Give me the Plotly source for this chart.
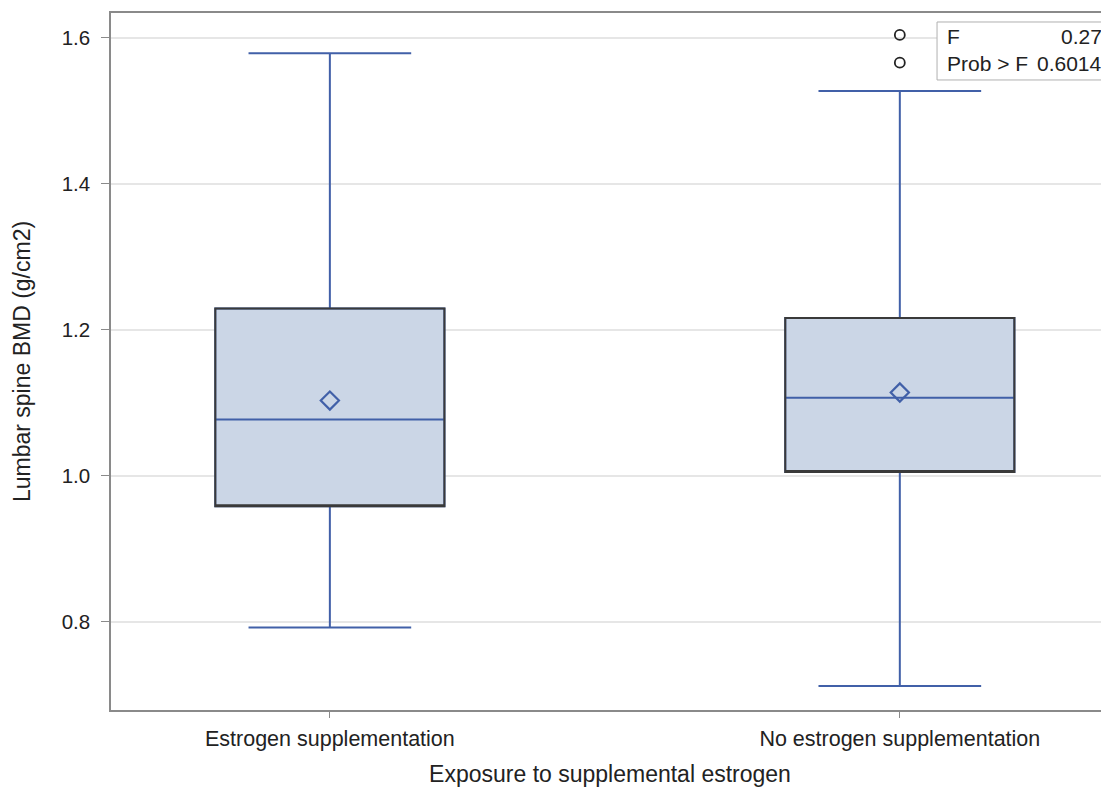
import plotly.graph_objects as go

categories = ["Estrogen supplementation", "No estrogen supplementation"]
q1 = [0.958, 1.005]
median = [1.077, 1.107]
q3 = [1.229, 1.216]
lower = [0.792, 0.712]
upper = [1.579, 1.527]
means = [1.103, 1.114]
outlier_cat = ["No estrogen supplementation", "No estrogen supplementation"]
outlier_val = [1.604, 1.566]
stat_labels = ["F", "Prob > F"]
stat_values = ["0.27", "0.6014"]

BLUE = "#4160A8"
DARK = "#3a3a3a"
FILL = "#CBD6E6"
FONT = "Liberation Sans, Arial, sans-serif"

fig = go.Figure()
# fill, median, whiskers in blue
fig.add_trace(go.Box(
    x=categories, q1=q1, median=median, q3=q3,
    lowerfence=lower, upperfence=upper,
    fillcolor=FILL, line=dict(color=BLUE, width=2),
    width=0.402, whiskerwidth=0.71, boxpoints=False, showlegend=False,
    hoverinfo="skip"))
# dark box outline overlay
fig.add_trace(go.Box(
    x=categories, q1=q1, median=q1, q3=q3,
    lowerfence=q1, upperfence=q3,
    fillcolor="rgba(0,0,0,0)", line=dict(color=DARK, width=2),
    width=0.402, whiskerwidth=0, boxpoints=False, showlegend=False,
    hoverinfo="skip"))
# means
fig.add_trace(go.Scatter(
    x=categories, y=means, mode="markers",
    marker=dict(symbol="diamond-open", size=14, color=BLUE, line=dict(width=2.2)),
    showlegend=False))
# outliers
fig.add_trace(go.Scatter(
    x=outlier_cat, y=outlier_val, mode="markers",
    marker=dict(symbol="circle-open", size=10, color="#222222", line=dict(width=1.8)),
    showlegend=False))

# inset stats table
fig.add_shape(type="rect", xref="paper", yref="paper",
              x0=0.8277, x1=0.999, y0=0.9039, y1=0.9871,
              line=dict(color="#b0b0b0", width=1), fillcolor="white", layer="above")
ys = [0.967, 0.928]
for lab, val, yy in zip(stat_labels, stat_values, ys):
    fig.add_annotation(xref="paper", yref="paper", x=0.8357, y=yy, text=lab,
                       showarrow=False, xanchor="left", yanchor="middle",
                       font=dict(family=FONT, size=21, color="#222"))
    fig.add_annotation(xref="paper", yref="paper", x=0.9948, y=yy, text=val,
                       showarrow=False, xanchor="right", yanchor="middle",
                       font=dict(family=FONT, size=21, color="#222"))

fig.update_layout(
    width=1101, height=784,
    margin=dict(l=103, r=0, t=5, b=82),
    plot_bgcolor="white", paper_bgcolor="white",
    font=dict(family=FONT, size=20, color="#222"),
    boxmode="overlay",
    xaxis=dict(
        type="category", categoryorder="array", categoryarray=categories,
        range=[-0.384, 1.367],
        showline=True, linecolor="#8a8a8a", linewidth=1.5, mirror=True,
        ticks="outside", ticklen=6, tickcolor="#8a8a8a", ticklabelstandoff=2,
        showgrid=False, zeroline=False,
        title=dict(text="Exposure to supplemental estrogen", font=dict(size=23), standoff=16),
        tickfont=dict(size=21.5)),
    yaxis=dict(
        range=[0.679, 1.634],
        tickvals=[0.8, 1.0, 1.2, 1.4, 1.6], ticktext=["0.8", "1.0", "1.2", "1.4", "1.6"],
        showline=True, linecolor="#8a8a8a", linewidth=1.5,
        ticks="outside", ticklen=8, tickcolor="#8a8a8a", ticklabelstandoff=7,
        showgrid=True, gridcolor="#e6e6e6", gridwidth=1.5, zeroline=False,
        title=dict(text="Lumbar spine BMD (g/cm2)", font=dict(size=23), standoff=25),
        tickfont=dict(size=20.5)),
)

fig.write_html("out.html")
